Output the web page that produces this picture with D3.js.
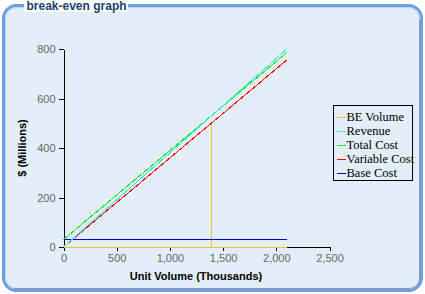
<!DOCTYPE html>
<html>
<head>
<meta charset="utf-8">
<script src="https://cdn.jsdelivr.net/npm/d3@7"></script>
<style>
  html, body { margin: 0; padding: 0; background: #ffffff; }
  svg { display: block; }
</style>
</head>
<body>
<svg id="chart" width="425" height="294"></svg>
<script>
// ---- data ----
const title = "break-even graph";
const xTicks = [0, 500, 1000, 1500, 2000, 2500];
const yTicks = [0, 200, 400, 600, 800];
const volume = [0, 2100];
const revenue = [0, 800];
const totalCost = [30, 786];
const variableCost = [0, 756];
const baseCost = [30, 30];
const beVolumeX = [0, 1390, 1390, 1390, 2100];
const beVolumeY = [0, 0, 500, 0, 0];
const seriesNames = ["BE Volume", "Revenue", "Total Cost", "Variable Cost", "Base Cost"];
const seriesColors = ["#f5c22a", "#33e8f8", "#1ee61e", "#ff0000", "#0000cc"];

// ---- drawing ----
const svg = d3.select("#chart");

// panel
svg.append("rect").attr("x", 3.5).attr("y", 5.5).attr("width", 418).attr("height", 285)
  .attr("rx", 13).attr("fill", "#e3eef9").attr("stroke", "#6e9fe4").attr("stroke-width", 3);
svg.append("rect").attr("x", 5.5).attr("y", 7.5).attr("width", 414).attr("height", 281)
  .attr("rx", 11).attr("fill", "none").attr("stroke", "#b8d2f4").attr("stroke-width", 1);
// inner shadow bottom/right
svg.append("path").attr("d", "M14,288.5 H409 Q419.5,288.5 419.5,278 V20")
  .attr("fill", "none").attr("stroke", "#8a99aa").attr("stroke-width", 1);
svg.append("rect").attr("x", 3.5).attr("y", 5.5).attr("width", 418).attr("height", 285)
  .attr("rx", 13).attr("fill", "none").attr("stroke", "#6e9fe4").attr("stroke-width", 2);

// title
svg.append("rect").attr("x", 24).attr("y", 0).attr("width", 104).attr("height", 12).attr("fill", "#ffffff");
svg.append("text").attr("x", 26.5).attr("y", 9.5)
  .attr("font-family", "Liberation Sans, Arial, sans-serif").attr("font-weight", "bold")
  .attr("font-size", 12).attr("fill", "#1a3f6f").text(title);

const x = d3.scaleLinear().domain([0, 2500]).range([63.5, 329.5]);
const y = d3.scaleLinear().domain([0, 800]).range([247, 49]);

// axes
const yAxis = svg.append("g").attr("transform", "translate(63.5,0)")
  .call(d3.axisLeft(y).tickValues(yTicks).tickSizeInner(5).tickSizeOuter(0).tickPadding(3));
const xAxis = svg.append("g").attr("transform", "translate(0,247)")
  .call(d3.axisBottom(x).tickValues(xTicks).tickFormat(d3.format(",")).tickSizeInner(4).tickSizeOuter(0).tickPadding(3));
[xAxis, yAxis].forEach(a => {
  a.selectAll("path,line").attr("stroke", "#000").attr("stroke-width", 1).attr("shape-rendering", "crispEdges");
  a.selectAll("text").attr("font-family", "Liberation Sans, Arial, sans-serif")
    .attr("font-size", 11).attr("fill", "#666666");
});

// axis titles
svg.append("text").attr("x", 196).attr("y", 279.5).attr("text-anchor", "middle")
  .attr("font-family", "Liberation Sans, Arial, sans-serif").attr("font-weight", "bold")
  .attr("font-size", 11).attr("fill", "#000").text("Unit Volume (Thousands)");
svg.append("text").attr("transform", "translate(26,148) rotate(-90)").attr("text-anchor", "middle")
  .attr("font-family", "Liberation Sans, Arial, sans-serif").attr("font-weight", "bold")
  .attr("font-size", 11).attr("fill", "#000").text("$ (Millions)");

// series
const line = d3.line().x(d => x(d[0])).y(d => y(d[1]));
const zip = (xs, ys) => xs.map((v, i) => [v, ys[i]]);
const series = [
  zip(beVolumeX, beVolumeY),
  zip(volume, revenue),
  zip(volume, totalCost),
  zip(volume, variableCost),
  zip(volume, baseCost)
];
const drawOrder = [0, 4, 3, 2, 1];
drawOrder.forEach(i => {
  svg.append("path").datum(series[i]).attr("d", line)
    .attr("fill", "none").attr("stroke", seriesColors[i]).attr("stroke-width", 1)
    .attr("shape-rendering", "crispEdges");
});

// legend
const lg = svg.append("g");
lg.append("rect").attr("x", 333.5).attr("y", 105.5).attr("width", 79).attr("height", 75)
  .attr("fill", "#e3eef9").attr("stroke", "#000").attr("stroke-width", 1);
seriesNames.forEach((n, i) => {
  const cy = 116.5 + i * 14.1;
  lg.append("line").attr("x1", 337).attr("x2", 346).attr("y1", Math.round(cy) + 0.5).attr("y2", Math.round(cy) + 0.5)
    .attr("stroke", seriesColors[i]).attr("stroke-width", 1);
  lg.append("text").attr("x", 346.5).attr("y", cy + 4.5)
    .attr("font-family", "Liberation Serif, Times New Roman, serif").attr("font-size", 12.5)
    .attr("fill", "#000").text(n);
});
</script>
</body>
</html>
